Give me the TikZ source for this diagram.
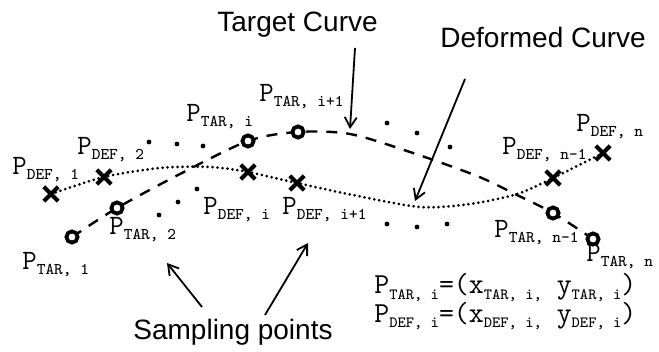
\documentclass[tikz,border=0pt]{standalone}
\usepackage{fontspec}
\setmainfont{Liberation Serif}
\setsansfont{Liberation Sans}
\usetikzlibrary{arrows.meta,shapes.misc}

\newcommand{\plab}[2]{#1\raisebox{-2.5pt}{\fontsize{8.2}{9}\selectfont #2}}
\newcommand{\psub}[1]{\raisebox{-2.5pt}{\fontsize{7.8}{9}\selectfont #1}}

\tikzset{
  tarcurve/.style={line width=1.2pt,dash pattern=on 5.5pt off 4.5pt},
  defcurve/.style={line width=1.5pt,line cap=round,dash pattern=on 0pt off 2.5pt},
  tarpt/.style={circle,draw,line width=1.9pt,minimum size=5.6pt,inner sep=0pt,fill=white},
  defpt/.style={cross out,draw,line width=2pt,minimum size=5.2pt,inner sep=0pt},
  lbl/.style={font=\ttfamily\fontsize{14}{16}\selectfont,anchor=base west,inner sep=0pt},
  captxt/.style={font=\sffamily\fontsize{14}{16}\selectfont,anchor=base west,inner sep=0pt},
  pointer/.style={line width=0.9pt,-{Straight Barb[length=5pt,width=6pt]}}
}

\begin{document}
\begin{tikzpicture}[x=0.5pt,y=-0.5pt]
  \useasboundingbox (0,0) rectangle (659,352);
  % target curve (dashed) and deformed curve (dotted)
  \draw[tarcurve] plot[smooth,tension=0.5] coordinates {(72,237) (117,208) (180,174)
        (248,141) (298,132) (350,134) (410,152) (477,176) (517,195) (553,213) (593,239)};
  \draw[defcurve] plot[smooth,tension=0.5] coordinates {(51,194) (104,177) (160,168)
        (210,167) (248,172) (297,183) (353,195) (420,207) (470,204) (517,194) (553,178) (603,153)};
  % sampling points between the markers
  \foreach \x/\y in {149/142,177/144,203/146,159/215,178/202,197/189,
                     387/123,417/133,450/147,387/224,417/227,447/224}
    \fill (\x,\y) circle (2.4);
  % markers on the target curve
  \foreach \n/\x/\y in {tara/72/237,tarb/117/208,tari/248/141,tarj/298/132,
                        tarm/553/213,tarn/593/239}
    \node[tarpt] (\n) at (\x,\y) {};
  % markers on the deformed curve
  \foreach \n/\x/\y in {defa/51/194,defb/104/177,defi/248/172,defj/297/183,
                        defm/553/178,defn/603/153}
    \node[defpt] (\n) at (\x,\y) {};
  % point labels
  \node[lbl] (ldefa) at (12,175) {\plab{P}{DEF, 1}};
  \node[lbl] (ldefb) at (77,155) {\plab{P}{DEF, 2}};
  \node[lbl] (ltari) at (186,122) {\plab{P}{TAR, i}};
  \node[lbl] (ltarj) at (259,102) {\plab{P}{TAR, i+1}};
  \node[lbl] (ldefm) at (502,155) {\plab{P}{DEF, n-1}};
  \node[lbl] (ldefn) at (576,132) {\plab{P}{DEF, n}};
  \node[lbl] (ldefi) at (203,215) {\plab{P}{DEF, i}};
  \node[lbl] (ldefj) at (282,215) {\plab{P}{DEF, i+1}};
  \node[lbl] (ltarb) at (109,235) {\plab{P}{TAR, 2}};
  \node[lbl] (ltara) at (22,270) {\plab{P}{TAR, 1}};
  \node[lbl] (ltarm) at (494,238) {\plab{P}{TAR, n-1}};
  \node[lbl] (ltarn) at (586,262) {\plab{P}{TAR, n}};
  % coordinate definitions
  \node[lbl,font=\ttfamily\fontsize{14.5}{16}\selectfont] (eqtar) at (374,294)
    {P\psub{TAR, i}=(x\psub{TAR, i,} y\psub{TAR, i})};
  \node[lbl,font=\ttfamily\fontsize{14.5}{16}\selectfont] (eqdef) at (374,322)
    {P\psub{DEF, i}=(x\psub{DEF, i,} y\psub{DEF, i})};
  % captions and pointers
  \node[captxt] (tgtcap) at (217,32) {Target Curve};
  \node[captxt] (defcap) at (440,48) {Deformed Curve};
  \node[captxt] (smpcap) at (133,340) {Sampling points};
  \coordinate (tgtfrom) at (355,48);
  \coordinate (tgtto) at (350,129);
  \coordinate (deffrom) at (465,79);
  \coordinate (defto) at (415,201);
  \coordinate (smpfroma) at (202,307);
  \coordinate (smptoa) at (167,263);
  \coordinate (smpfromb) at (265,315);
  \coordinate (smptob) at (308,243);
  \draw[pointer] (tgtfrom) -- (tgtto);
  \draw[pointer] (deffrom) -- (defto);
  \draw[pointer] (smpfroma) -- (smptoa);
  \draw[pointer] (smpfromb) -- (smptob);
\end{tikzpicture}
\end{document}
